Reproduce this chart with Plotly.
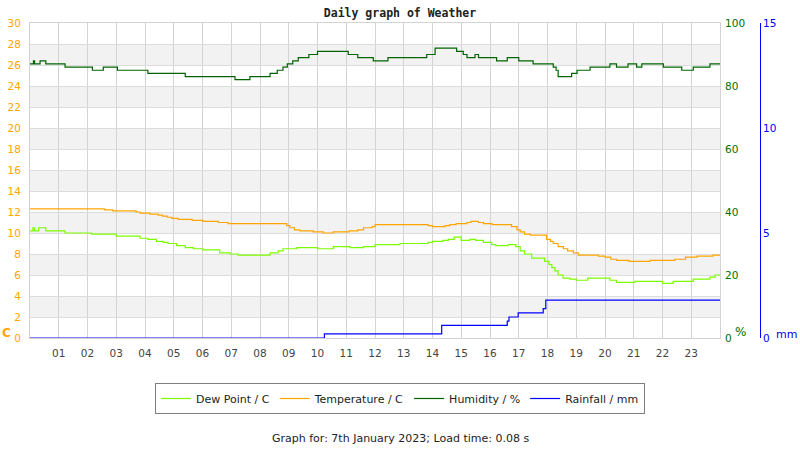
import plotly.graph_objects as go

# ---------------- data (hours of the day, values) ----------------
hour_ticks = list(range(1, 24))
hour_labels = [f"{h:02d}" for h in hour_ticks]

temp_t = [0, 2.6, 2.88, 3.69, 3.83, 4.17, 4.46, 4.61, 4.77, 4.93,
          5.15, 5.64, 6.02, 6.55, 6.89, 8.93, 9.04, 9.2, 9.39, 9.85,
          10.2, 10.55, 11.1, 11.4, 11.6, 11.9, 12.0, 13.85, 14.0, 14.43,
          14.6, 14.82, 15.2, 15.34, 15.6, 15.77, 16.07, 16.75, 16.94, 17.05,
          17.2, 17.4, 17.97, 18.1, 18.2, 18.37, 18.55, 18.7, 18.9, 19.07,
          19.77, 20.0, 20.2, 20.4, 20.83, 21.57, 22.43, 22.8, 23.2, 23.76, 24]
temp_v = [12.3, 12.2, 12.1, 12.0, 11.9, 11.8, 11.7, 11.6, 11.5, 11.4,
          11.3, 11.2, 11.1, 11.0, 10.9, 10.7, 10.5, 10.3, 10.2, 10.1,
          10.0, 10.1, 10.2, 10.3, 10.5, 10.6, 10.8, 10.7, 10.6, 10.7,
          10.8, 10.9, 11.0, 11.1, 11.0, 10.9, 10.8, 10.6, 10.3, 10.1,
          9.9, 9.8, 9.4, 9.2, 9.0, 8.7, 8.5, 8.3, 8.1, 7.9,
          7.8, 7.7, 7.5, 7.4, 7.3, 7.4, 7.5, 7.7, 7.8, 7.9, 7.9]

dew_t = [0, 0.1, 0.15, 0.3, 0.55, 1.22, 2.14, 3.0, 3.83, 4.1, 4.4, 4.63, 4.8, 5.1,
         5.4, 5.68, 6.02, 6.6, 6.96, 7.24, 8.35, 8.63, 8.8, 9.28,
         10.0, 10.55, 11.13, 11.6, 12.0, 12.87, 13.85, 14.0, 14.37, 14.55,
         14.75, 15.0, 15.3, 15.5, 15.77, 16.06, 16.2, 16.63, 16.9, 17.05,
         17.2, 17.45, 17.9, 18.05, 18.15, 18.26, 18.37, 18.54, 18.78, 19.0,
         19.4, 20.17, 20.4, 21.04, 22.0, 22.37, 23.07, 23.65, 23.83, 24]
dew_v = [10.2, 10.5, 10.2, 10.5, 10.2, 10.0, 9.9, 9.7, 9.5, 9.4, 9.2, 9.1, 9.0, 8.8,
         8.6, 8.5, 8.4, 8.1, 8.0, 7.9, 8.1, 8.3, 8.5, 8.6,
         8.5, 8.7, 8.6, 8.7, 8.9, 9.0, 9.1, 9.2, 9.3, 9.4,
         9.6, 9.3, 9.4, 9.3, 9.1, 8.9, 8.8, 8.9, 8.7, 8.3,
         8.0, 7.6, 7.3, 7.0, 6.7, 6.4, 6.0, 5.7, 5.6, 5.5,
         5.7, 5.5, 5.3, 5.4, 5.2, 5.4, 5.6, 5.8, 6.0, 6.0]

hum_t = [0, 0.12, 0.16, 0.35, 0.55, 1.22, 2.17, 2.55, 3.04, 4.1, 5.4, 7.13, 7.65,
         8.35, 8.6, 8.8, 8.95, 9.14, 9.33, 9.7, 10.0, 11.07, 11.4, 11.94,
         12.45, 13.8, 14.09, 14.84, 15.07, 15.2, 15.48, 15.6, 16.23, 16.6,
         17.0, 17.5, 18.2, 18.3, 18.37, 18.84, 19.03, 19.48, 20.17, 20.4,
         20.8, 21.1, 21.28, 22.03, 22.67, 23.07, 23.65, 24]
hum_v = [87, 88, 87, 88, 87, 86, 85, 86, 85, 84, 83, 82, 83,
         84, 85, 86, 87, 88, 89, 90, 91, 90, 89, 88,
         89, 90, 92, 91, 90, 89, 90, 89, 88, 89,
         88, 87, 86, 85, 83, 84, 85, 86, 87, 86,
         87, 86, 87, 86, 85, 86, 87, 87]

rain_t = [0, 10.24, 14.32, 16.6, 16.66, 16.98, 17.85, 17.94, 24]
rain_v = [0, 0.2, 0.6, 0.8, 1.0, 1.2, 1.4, 1.8, 1.8]

# ---------------- geometry helpers ----------------
L, R, T, B = 30, 30, 23, 112
W, H = 800, 450
PW, PH = W - L - R, H - T - B


def px_x(x):
    return (x - L) / PW


def px_y(y):
    return (H - B - y) / PH


FONT = "DejaVu Sans"

fig = go.Figure()
fig.add_trace(go.Scatter(x=dew_t, y=dew_v, name="Dew Point / C", mode="lines",
                         line=dict(color="#7CFC00", width=1.2, shape="hv"), yaxis="y"))
fig.add_trace(go.Scatter(x=temp_t, y=temp_v, name="Temperature / C", mode="lines",
                         line=dict(color="#FFA500", width=1.2, shape="hv"), yaxis="y"))
fig.add_trace(go.Scatter(x=hum_t, y=hum_v, name="Humidity / %", mode="lines",
                         line=dict(color="#006400", width=1.2, shape="hv"), yaxis="y2"))
fig.add_trace(go.Scatter(x=rain_t, y=rain_v, name="Rainfall / mm", mode="lines",
                         line=dict(color="#0000FF", width=1.2, shape="hv"), yaxis="y3"))

# alternating grey bands
shapes = []
for y0 in range(2, 30, 4):
    shapes.append(dict(type="rect", xref="x domain", yref="y", x0=0, x1=1, y0=y0, y1=y0 + 2,
                       fillcolor="#f2f2f2", line=dict(width=0), layer="below"))

fig.update_layout(
    width=W, height=H,
    margin=dict(l=L, r=R, t=T, b=B, autoexpand=False),
    paper_bgcolor="white", plot_bgcolor="white",
    font=dict(family=FONT, size=10),
    shapes=shapes,
    showlegend=True,
    title=dict(text="<b>Daily graph of Weather</b>", x=0.5, xanchor="center",
               y=1 - 13 / H, yanchor="middle", yref="container",
               font=dict(family="DejaVu Sans Mono", size=11.5, color="#222")),
    xaxis=dict(range=[0, 24], domain=[0, (720 - L) / PW], tickvals=hour_ticks, ticktext=hour_labels,
               showgrid=True, gridcolor="#d3d3d3", gridwidth=1, zeroline=False,
               showline=True, linecolor="#d3d3d3", mirror=True, automargin=False,
               ticks="outside", ticklen=5, tickcolor="rgba(0,0,0,0)",
               tickfont=dict(color="#444", size=10.5)),
    yaxis=dict(range=[0, 30], dtick=2, showgrid=True, gridcolor="#dcdcdc", zeroline=False,
               showline=True, linecolor="#d3d3d3", mirror=True, automargin=False,
               ticks="outside", ticklen=6, tickcolor="rgba(0,0,0,0)",
               tickfont=dict(color="#FFA500", size=10.5)),
    yaxis2=dict(range=[0, 100], dtick=20, overlaying="y", side="right", anchor="x",
                showgrid=False, zeroline=False, showline=False, automargin=False,
                ticks="outside", ticklen=2, tickcolor="rgba(0,0,0,0)",
                tickfont=dict(color="#007000", size=10.5)),
    yaxis3=dict(range=[0, 15], dtick=5, overlaying="y", side="right", anchor="free",
                position=px_x(760), showgrid=False, zeroline=False, automargin=False,
                showline=True, linecolor="#0000FF", linewidth=1,
                tickfont=dict(color="#0000FF", size=10.5)),
    legend=dict(orientation="h", x=px_x(400), xanchor="center", y=px_y(383), yanchor="top",
                bordercolor="#808080", borderwidth=1, bgcolor="white",
                font=dict(family=FONT, size=11, color="#222"), traceorder="normal"),
    annotations=[
        dict(text="<b>C</b>", x=px_x(6), y=px_y(333), xref="paper", yref="paper",
             showarrow=False, xanchor="center", yanchor="middle",
             font=dict(color="#FFA500", size=12, family=FONT)),
        dict(text="%", x=px_x(740), y=px_y(332), xref="paper", yref="paper",
             showarrow=False, xanchor="center", yanchor="middle",
             font=dict(color="#007000", size=12, family=FONT)),
        dict(text="mm", x=px_x(786), y=px_y(334), xref="paper", yref="paper",
             showarrow=False, xanchor="center", yanchor="middle",
             font=dict(color="#0000FF", size=11, family=FONT)),
        dict(text="Graph for: 7th January 2023; Load time: 0.08 s", x=px_x(400), y=px_y(438),
             xref="paper", yref="paper", showarrow=False, xanchor="center", yanchor="middle",
             font=dict(color="#222", size=11, family=FONT)),
    ],
)

fig.write_html("out.html")
